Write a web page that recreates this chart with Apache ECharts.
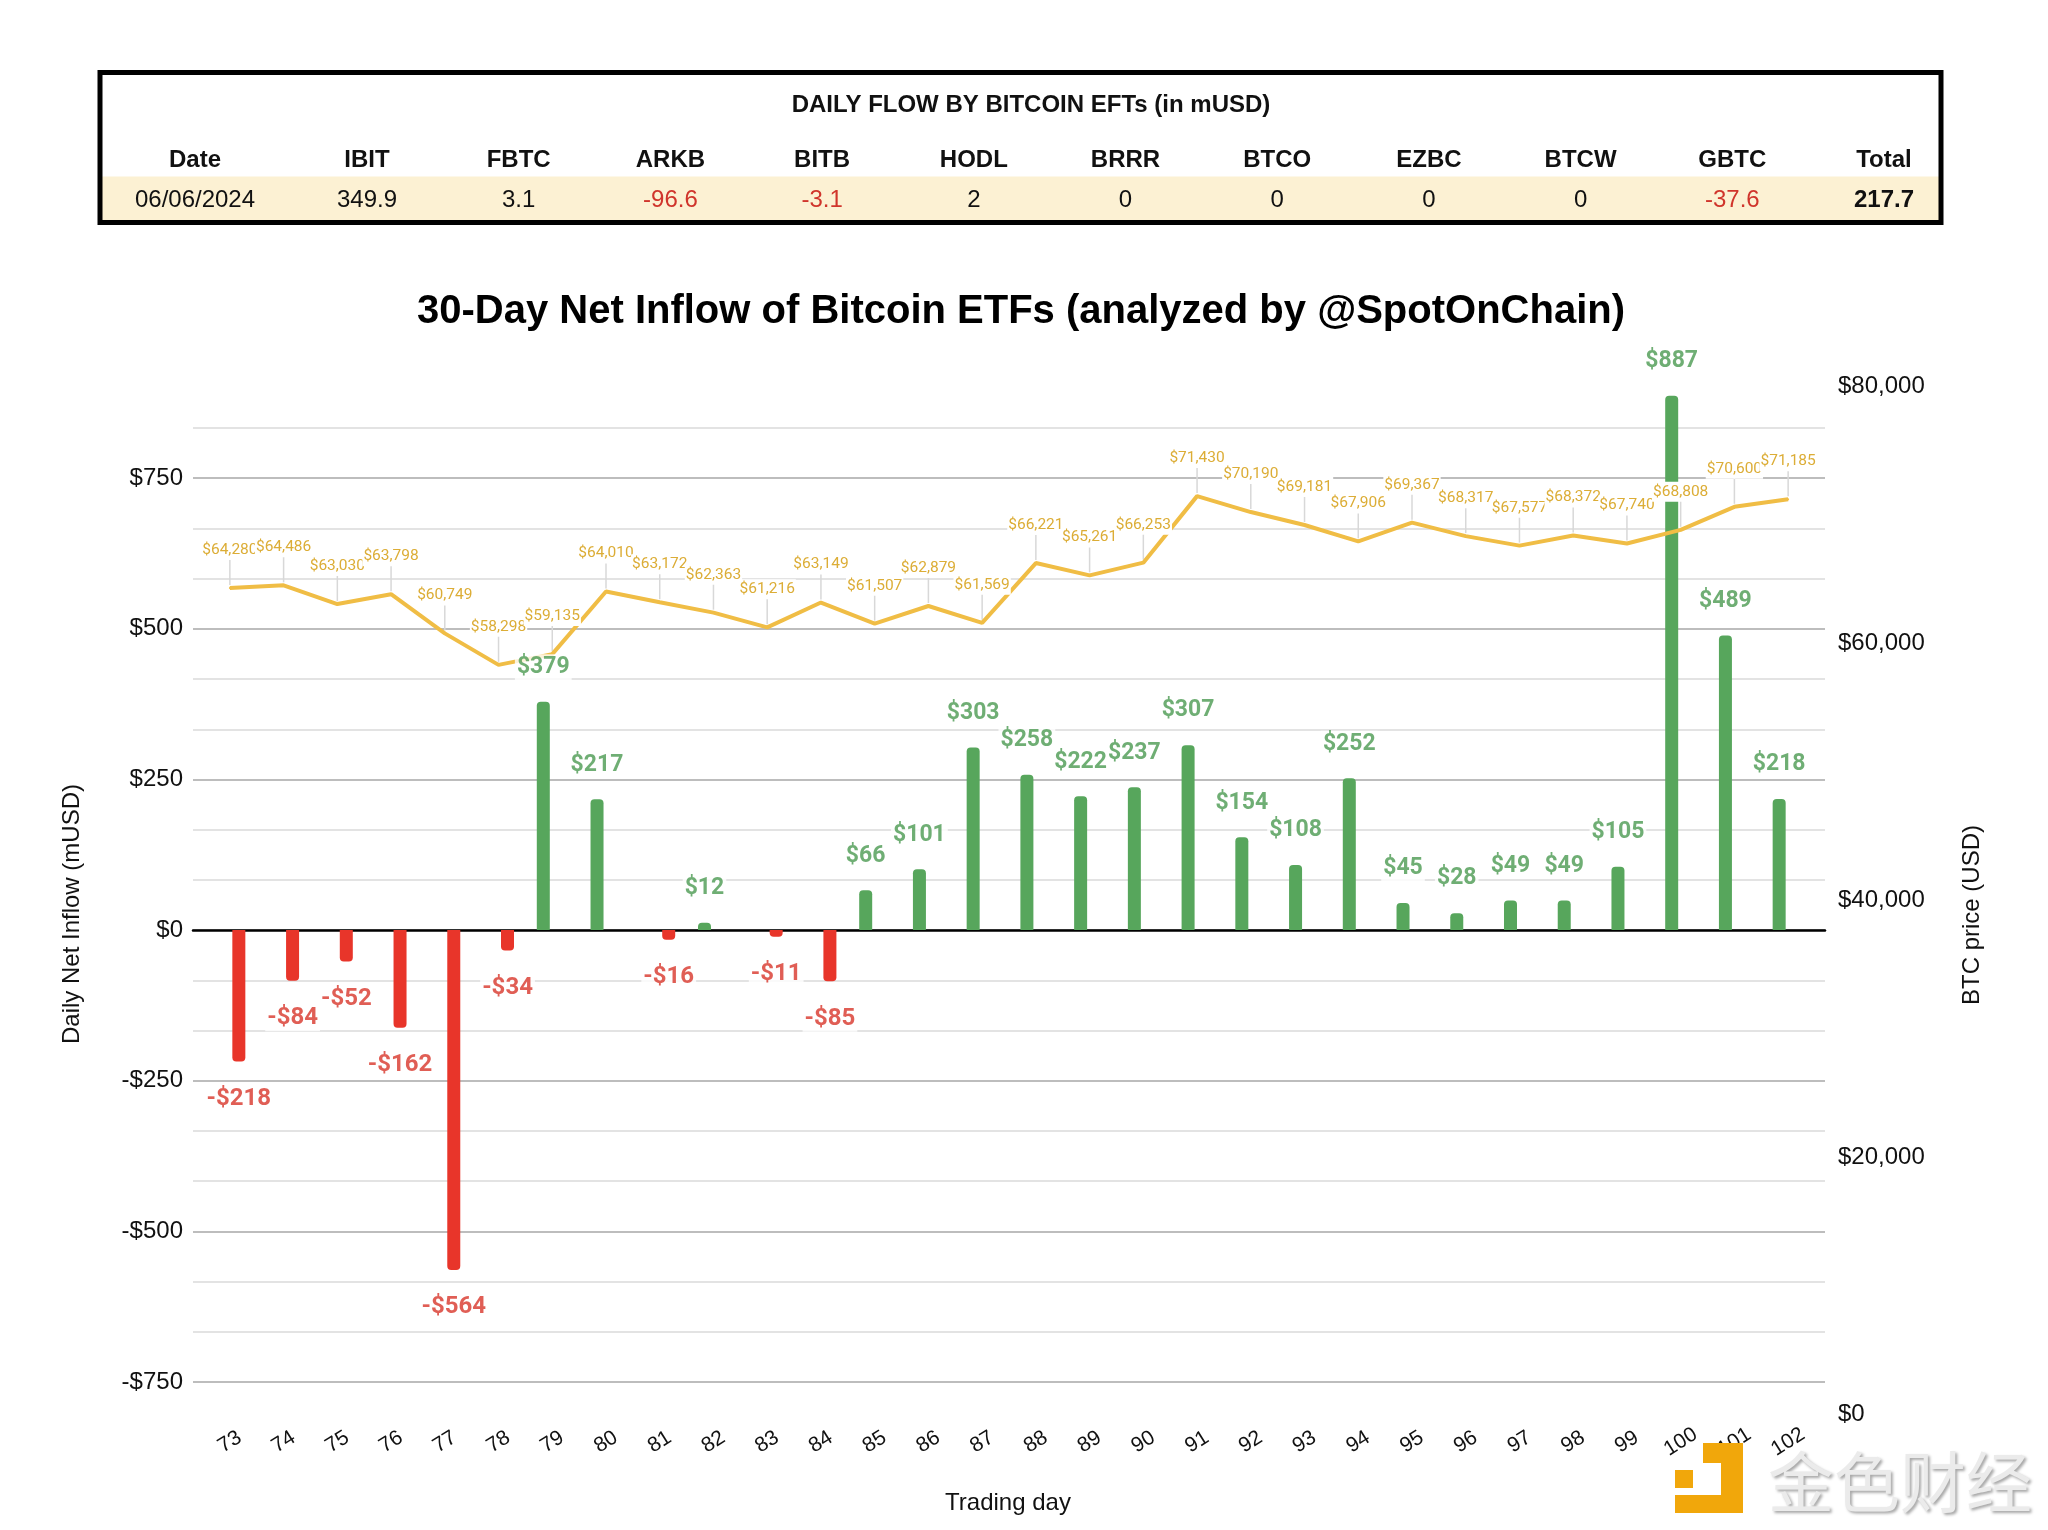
<!DOCTYPE html>
<html>
<head>
<meta charset="utf-8">
<script src="https://cdn.jsdelivr.net/npm/echarts@6/dist/echarts.min.js"></script>
<style>
html,body{margin:0;padding:0;background:#fff;}
#chart{width:2048px;height:1530px;}
</style>
</head>
<body>
<div id="chart"></div>
<script>
// ---------- data ----------
const tradingDays = ['73','74','75','76','77','78','79','80','81','82','83','84','85','86','87','88','89','90','91','92','93','94','95','96','97','98','99','100','101','102'];
const netFlows = [-218,-84,-52,-162,-564,-34,379,217,-16,12,-11,-85,66,101,303,258,222,237,307,154,108,252,45,28,49,49,105,887,489,217.7];
const btcPrice = [64280,64486,63030,63798,60749,58298,59135,64010,63172,62363,61216,63149,61507,62879,61569,66221,65261,66253,71430,70190,69181,67906,69367,68317,67577,68372,67740,68808,70600,71185];
const leftAxisTicks = [-750,-500,-250,0,250,500,750];
const rightAxisTicks = [0,20000,40000,60000,80000];
const tableTitle = 'DAILY FLOW BY BITCOIN EFTs (in mUSD)';
const tableColumns = ['Date','IBIT','FBTC','ARKB','BITB','HODL','BRRR','BTCO','EZBC','BTCW','GBTC','Total'];
const tableRow = ['06/06/2024','349.9','3.1','-96.6','-3.1','2','0','0','0','0','-37.6','217.7'];
const chartTitle = '30-Day Net Inflow of Bitcoin ETFs (analyzed by @SpotOnChain)';

// ---------- styles ----------
const FONT = '"Liberation Sans", Arial, Helvetica, sans-serif';
const LFONT = 'Roboto, "Liberation Sans", sans-serif';
const GREEN = '#57a65c', GREEN_TXT = '#4b9a51';
const RED = '#e8352a', RED_TXT = '#d8362a';
const GOLD = '#f0bd45', GOLD_TXT = '#dcad36';

const greenVals = netFlows.map(v => v >= 0 ? v : '-');
const redVals = netFlows.map(v => v < 0 ? v : '-');

function fmtFlow(v) {
  const r = Math.round(v);
  return (r < 0 ? '-$' : '$') + Math.abs(r);
}

// ---------- table graphics ----------
const colX = tableColumns.map((c, i) => i === 0 ? 195 : 367 + (i - 1) * 151.7);
const graphics = [
  {type:'rect', shape:{x:100,y:72.5,width:1841,height:150}, style:{fill:'#fff'}, z:10},
  {type:'rect', shape:{x:102,y:176.5,width:1837,height:44}, style:{fill:'#fcf1d3'}, z:11},
  {type:'rect', shape:{x:100,y:72.5,width:1841,height:150}, style:{fill:'none',stroke:'#000',lineWidth:5}, z:12},
  {type:'text', x:1031, y:105, z:13, style:{text:tableTitle, align:'center', verticalAlign:'middle', font:'bold 24px ' + FONT, fill:'#111'}}
];
tableColumns.forEach((c, i) => {
  graphics.push({type:'text', x:colX[i], y:160.5, z:13, style:{text:c, align:'center', verticalAlign:'middle', font:'bold 24px ' + FONT, fill:'#111'}});
  const v = tableRow[i];
  const neg = v.charAt(0) === '-';
  graphics.push({type:'text', x:colX[i], y:200.5, z:13, style:{text:v, align:'center', verticalAlign:'middle', font:(i === tableColumns.length - 1 ? 'bold ' : '') + '24px ' + FONT, fill: neg ? '#d0352c' : '#111'}});
});
// title and axis names
graphics.push(
  {type:'text', x:1021, y:312, z:13, style:{text:chartTitle, align:'center', verticalAlign:'middle', font:'bold 40px ' + FONT, fill:'#000'}},
  {type:'text', x:72, y:914, rotation:Math.PI/2, z:13, style:{text:'Daily Net Inflow (mUSD)', align:'center', verticalAlign:'middle', font:'24px ' + FONT, fill:'#111'}},
  {type:'text', x:1972, y:915, rotation:Math.PI/2, z:13, style:{text:'BTC price (USD)', align:'center', verticalAlign:'middle', font:'24px ' + FONT, fill:'#111'}},
  {type:'text', x:1008, y:1503, z:13, style:{text:'Trading day', align:'center', verticalAlign:'middle', font:'24px ' + FONT, fill:'#111'}}
);
// watermark
const LOGO = '#f1a70b';
graphics.push(
  {type:'rect', shape:{x:1703,y:1443,width:19,height:20}, style:{fill:LOGO}, z:20},
  {type:'rect', shape:{x:1721,y:1443,width:22,height:70}, style:{fill:LOGO}, z:20},
  {type:'rect', shape:{x:1675,y:1495,width:68,height:18}, style:{fill:LOGO}, z:20},
  {type:'rect', shape:{x:1675,y:1470,width:18,height:18}, style:{fill:LOGO}, z:20},
  {type:'text', x:1900, y:1482, z:20, style:{text:'金色财经', align:'center', verticalAlign:'middle', font:'66px "Noto Sans CJK SC", sans-serif', fill:'#ebebeb', textShadowColor:'rgba(0,0,0,0.35)', textShadowBlur:3, textShadowOffsetX:2, textShadowOffsetY:2}}
);

const chart = echarts.init(document.getElementById('chart'), null, {renderer:'canvas'});
const option = {
  animation:false,
  backgroundColor:'#fff',
  grid:[
    {left:193, right:223, top:428, bottom:148, outerBoundsMode:'none'},
    {left:203, right:233, top:428, bottom:148, outerBoundsMode:'none'},
    {left:203, right:233, top:386, bottom:116, outerBoundsMode:'none'}
  ],
  xAxis:[
    {gridIndex:0, type:'value', min:0, max:1, axisLabel:{show:false}, axisTick:{show:false}, splitLine:{show:false},
     axisLine:{show:true, onZero:true, lineStyle:{color:'#000', width:2.5}}},
    {gridIndex:1, type:'category', data:tradingDays, boundaryGap:true,
     axisLine:{show:false, onZero:false}, axisTick:{show:false}, splitLine:{show:false},
     axisLabel:{interval:0, rotate:32, align:'center', verticalAlign:'middle', margin:60, fontSize:21, color:'#111', fontFamily:FONT}},
    {gridIndex:2, type:'category', data:tradingDays, boundaryGap:true, show:false}
  ],
  yAxis:[
    {gridIndex:0, type:'value', min:-750, max:2500/3, interval:250/3,
     axisLine:{show:false}, axisTick:{show:false},
     axisLabel:{margin:10, fontSize:24, color:'#111', fontFamily:FONT,
       formatter:(v) => { const r = Math.round(v); if (Math.abs(v - r) > 0.05 || leftAxisTicks.indexOf(r) < 0) return ''; return fmtFlow(r); }},
     splitLine:{show:true, lineStyle:{color:['#bdbdbd','#e3e3e3','#e3e3e3'], width:2}}},
    {gridIndex:1, type:'value', min:-750, max:2500/3, show:false, splitLine:{show:false}},
    {gridIndex:2, type:'value', position:'right', min:0, max:80000, interval:20000,
     axisLine:{show:false}, axisTick:{show:false}, splitLine:{show:false},
     axisLabel:{margin:23, fontSize:24, color:'#111', fontFamily:FONT,
       formatter:(v) => rightAxisTicks.indexOf(v) < 0 ? '' : '$' + v.toLocaleString('en-US')}}
  ],
  series:[
    {name:'Inflow', type:'bar', xAxisIndex:1, yAxisIndex:1, data:greenVals, barWidth:13, barGap:'38%', clip:false, z:2,
     itemStyle:{color:GREEN, borderRadius:[4,4,0,0]}, emphasis:{disabled:true}},
    {name:'Outflow', type:'bar', xAxisIndex:1, yAxisIndex:1, data:redVals, barWidth:13, barGap:'38%', clip:false, z:2,
     itemStyle:{color:RED, borderRadius:[0,0,4,4]}, emphasis:{disabled:true}},
    {name:'leaders', type:'custom', xAxisIndex:2, yAxisIndex:2, silent:true, z:2.5,
     data:btcPrice.map((p, i) => [i, p]),
     renderItem:(params, api) => {
       const pt = api.coord([api.value(0), api.value(1)]);
       return {type:'line', shape:{x1:pt[0], y1:pt[1] - 3, x2:pt[0], y2:pt[1] - 30}, style:{stroke:'#d8d8d8', lineWidth:1.5}};
     }},
    {name:'BTC price', type:'line', xAxisIndex:2, yAxisIndex:2, data:btcPrice, z:3,
     symbol:'circle', symbolSize:2, showSymbol:true,
     lineStyle:{color:GOLD, width:4}, itemStyle:{color:GOLD}, emphasis:{disabled:true},
     label:{show:true, position:'top', distance:27, color:GOLD_TXT, fontSize:15.5, fontFamily:LFONT,
       backgroundColor:'#fff', padding:[1,1], lineHeight:18,
       formatter:(p) => '$' + p.value.toLocaleString('en-US')}},
    {name:'inLabels', type:'scatter', xAxisIndex:1, yAxisIndex:1, data:greenVals, symbolSize:1, z:5, silent:true, clip:false,
     itemStyle:{color:'rgba(0,0,0,0)'}, emphasis:{disabled:true},
     label:{show:true, position:'top', distance:21, offset:[-9,0], color:GREEN_TXT, fontSize:23, fontWeight:'bold', fontFamily:LFONT,
       backgroundColor:'#fff', padding:[0,2], lineHeight:26, formatter:(p) => fmtFlow(p.value)}},
    {name:'outLabels', type:'scatter', xAxisIndex:1, yAxisIndex:1, data:redVals, symbolSize:1, z:5, silent:true, clip:false,
     itemStyle:{color:'rgba(0,0,0,0)'}, emphasis:{disabled:true},
     label:{show:true, position:'bottom', distance:24, offset:[9,0], color:RED_TXT, fontSize:24, fontWeight:'bold', fontFamily:LFONT,
       backgroundColor:'#fff', padding:[0,2], lineHeight:26, formatter:(p) => fmtFlow(p.value)}}
  ],
  graphic:{elements:graphics}
};
chart.setOption(option);
</script>
</body>
</html>
